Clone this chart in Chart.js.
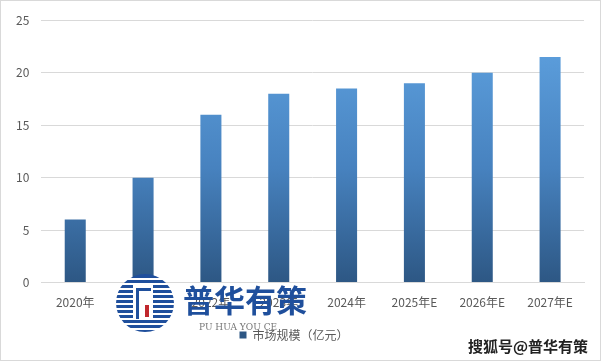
<!DOCTYPE html>
<html>
<head>
<meta charset="utf-8">
<script src="https://cdn.jsdelivr.net/npm/chart.js@4"></script>
<style>
  html, body { margin: 0; padding: 0; background: #fff; }
  #wrap { position: relative; width: 599px; height: 359px; border: 1px solid #d9d9d9; }
</style>
</head>
<body>
<div id="wrap"><canvas id="myChart"></canvas></div>
<script>
  'use strict';

  // Chart data
  const categories = ['2020年', '2021年', '2022年', '2023年', '2024年', '2025年E', '2026年E', '2027年E'];
  const marketSize = [6, 10, 16, 18, 18.5, 19, 20, 21.5];
  const seriesLabel = '市场规模（亿元）';
  const yTicks = [0, 5, 10, 15, 20, 25];

  const FONT = '"Microsoft YaHei", "Noto Sans CJK SC", sans-serif';

  // vertical gradient for the bars, light on top, dark at the bottom
  function barGradient(context) {
    const chart = context.chart;
    const area = chart.chartArea;
    if (!area) return '#4a86c5';
    const y0 = chart.scales.y.getPixelForValue(0);
    const g = chart.ctx.createLinearGradient(0, y0 - 230, 0, y0);
    g.addColorStop(0, '#5b9ddb');
    g.addColorStop(0.5, '#4782bf');
    g.addColorStop(1, '#2d5784');
    return g;
  }

  // watermark (logo + texts) drawn on top of the chart
  const watermark = {
    id: 'watermark',
    afterDraw(chart) {
      const c = chart.ctx;
      c.save();
      // round logo
      c.beginPath();
      c.arc(144, 302, 29, 0, Math.PI * 2);
      c.fillStyle = '#1f4f9c';
      c.fill();
      c.strokeStyle = '#ffffff';
      c.lineWidth = 2;
      for (let y = 278; y < 330; y += 5) {
        c.beginPath();
        c.moveTo(112, y);
        c.lineTo(176, y);
        c.stroke();
      }
      c.fillStyle = '#ffffff';
      c.fillRect(132, 284, 20, 34);
      c.fillStyle = '#1f4f9c';
      c.fillRect(135, 287, 3, 31);
      c.fillRect(135, 287, 15, 3);
      c.fillStyle = '#c0272d';
      c.fillRect(144, 304, 4, 12);

      c.fillStyle = '#1f4f9c';
      c.font = 'bold 31px ' + FONT;
      c.textBaseline = 'middle';
      c.fillText('普华有策', 182, 299);
      c.fillStyle = '#777';
      c.font = '9px "DejaVu Serif", serif';
      c.fillText('PU HUA YOU CE', 198, 327);
      c.fillStyle = '#222';
      c.font = 'bold 15px ' + FONT;
      c.textAlign = 'right';
      c.fillText('搜狐号@普华有策', 587, 345);
      c.restore();
    }
  };

  const ctx = document.getElementById('myChart');
  const myChart = new Chart(ctx, {
    type: 'bar',
    data: {
      labels: categories,
      datasets: [{
        label: seriesLabel,
        data: marketSize,
        backgroundColor: barGradient,
        borderWidth: 0,
        categoryPercentage: 1,
        barPercentage: 0.31
      }]
    },
    options: {
      responsive: true,
      maintainAspectRatio: false,
      animation: false,
      layout: { padding: { left: 3, right: 16, top: 11, bottom: 9 } },
      scales: {
        x: {
          grid: { display: false },
          border: { color: '#d9d9d9' },
          ticks: { color: '#595959', font: { family: FONT, size: 12 }, padding: 5, maxRotation: 0 }
        },
        y: {
          min: 0,
          max: 25,
          afterBuildTicks: (axis) => { axis.ticks = yTicks.map(v => ({ value: v })); },
          grid: { color: '#d9d9d9', drawTicks: false },
          border: { display: false },
          ticks: { color: '#595959', font: { family: FONT, size: 12 }, padding: 12 }
        }
      },
      plugins: {
        legend: {
          position: 'bottom',
          labels: {
            color: '#595959',
            font: { family: FONT, size: 12 },
            boxWidth: 7,
            boxHeight: 7,
            padding: 14
          }
        },
        tooltip: { enabled: false }
      }
    },
    plugins: [watermark]
  });
</script>
</body>
</html>
